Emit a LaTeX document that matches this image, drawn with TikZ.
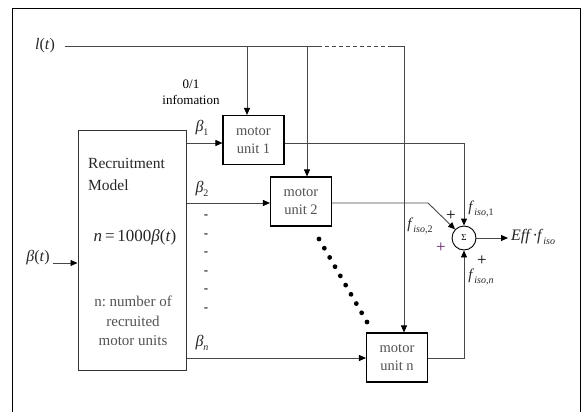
\documentclass[tikz,border=0pt]{standalone}
\usepackage{fontspec}
\setmainfont{Liberation Serif}
\usetikzlibrary{arrows.meta,calc}

% italic variable with a small lowered subscript
\newcommand{\subvar}[2]{\textit{#1}{\fontsize{10}{10}\selectfont\raisebox{-3.5pt}{#2}}}

\begin{document}
\begin{tikzpicture}[x=1pt,y=-1pt,
  wire/.style={draw=black!72, line width=0.9pt},
  feed/.style={wire,-{Triangle[length=7pt,width=6pt,color=black]}},
  unitbox/.style={draw=black, line width=1.1pt, minimum width=61pt,
    minimum height=49pt, inner sep=0pt, align=center,
    font=\fontsize{14.5}{18}\selectfont, text=black!68},
  mathlbl/.style={inner sep=0pt, font=\fontsize{16}{18}\selectfont, text=black!85},
  sublbl/.style={inner sep=0pt, font=\fontsize{15}{16}\selectfont, text=black!85},
  plus/.style={inner sep=0pt, font=\fontsize{17}{17}\selectfont},
  dashmark/.style={inner sep=0pt, font=\fontsize{13}{13}\selectfont}
]
\useasboundingbox (0,0) rectangle (583,412);

% outer frame, open at the bottom
\draw[black, line width=1pt] (12,412) -- (12,9) -- (580,9) -- (580,412);

% blocks
\node[draw=black!80, line width=1pt, minimum width=108pt, minimum height=240pt,
  inner sep=0pt] (rec) at (132,250) {};
\node[anchor=west, inner sep=0pt, align=left, text=black!85,
  font=\fontsize{15.5}{22}\selectfont] (rectitle) at (88,174) {Recruitment\\Model};
\node[mathlbl, font=\fontsize{17}{18}\selectfont] (receq) at (135,237)
  {\textit{n}\,=\,1000\textit{β}(\textit{t})};
\node[inner sep=0pt, align=center, text=black!68,
  font=\fontsize{15}{19.5}\selectfont] (recnote) at (133,321)
  {n:\ number of\\recruited\\motor units};

\node[unitbox] (mu1) at (253.5,140) {motor\\unit 1};
\node[unitbox] (mu2) at (301,201.5) {motor\\unit 2};
\node[unitbox] (mun) at (397,357.5) {motor\\unit n};

\node[draw=black, line width=0.9pt, circle, minimum size=24pt, inner sep=0pt,
  font=\fontsize{9}{9}\selectfont] (sum) at (464,238) {Σ};

% input labels
\node[mathlbl] (lt) at (45,46) {\textit{l}(\textit{t})};
\node[mathlbl] (bt) at (38,258) {\textit{β}(\textit{t})};
\node[inner sep=0pt, align=center, font=\fontsize{13}{16}\selectfont]
  (info) at (191,92) {0/1\\infomation};

% l(t) line with its taps down to the units
\coordinate (lstart) at (65,46);
\coordinate (tap1) at (247,46);
\coordinate (tap2) at (307,46);
\coordinate (dashA) at (318,46);
\coordinate (dashB) at (392,46);
\coordinate (tapn) at (404,46);
\draw[wire] (lstart) -- (dashA);
\draw[wire, dash pattern=on 4pt off 3pt] (dashA) -- (dashB);
\draw[wire] (dashB) -- (tapn);
\draw[feed] (tap1) -- (tap1 |- mu1.north);
\draw[feed] (tap2) -- (tap2 |- mu2.north);
\draw[feed] (tapn) -- (tapn |- mun.north);

% beta(t) into the recruitment model
\coordinate (btend) at (53,263);
\draw[feed] (btend) -- (rec.west |- btend);

% recruitment outputs
\draw[feed] (rec.east |- 0,143) -- (mu1.west |- 0,143);
\draw[feed] (rec.east |- 0,203) -- (mu2.west |- 0,203);
\draw[feed] (rec.east |- 0,358) -- (mun.west |- 0,358);
\node[mathlbl] (b1) at (202,128) {\subvar{β}{1}};
\node[mathlbl] (b2) at (202,189) {\subvar{β}{2}};
\node[mathlbl] (bn) at (202,343) {\subvar{β}{\textit{n}}};
\foreach \yy in {217,236,254,273,291,310}
  \node[dashmark] at (206,\yy) {-};

% ellipsis between unit 2 and unit n
\foreach \i in {0,...,9}
  \fill[black] ($(319,239)!\i/9!(367,322)$) circle (2.4pt);

% unit outputs into the summing junction
\coordinate (c1) at (464,143);
\coordinate (c2) at (428,203);
\coordinate (cn) at (464,358);
\draw[feed] (mu1.east |- c1) -- (c1) -- (sum.north);
\draw[feed] (mu2.east |- c2) -- (c2) -- (sum);
\draw[feed] (mun.east |- cn) -- (cn) -- (sum.south);
\coordinate (out) at (508,238);
\draw[feed] (sum.east) -- (out);

% junction labels
\node[sublbl] (f1) at (481,209) {\subvar{f}{\textit{iso},1}};
\node[sublbl] (f2) at (420,226) {\subvar{f}{\textit{iso},2}};
\node[sublbl] (fn) at (481,277) {\subvar{f}{\textit{iso},\textit{n}}};
\node[plus] (p1) at (451,216) {+};
\node[plus, text={rgb,255:red,100;green,30;blue,100}] (p2) at (441,248) {+};
\node[plus] (p3) at (482,261) {+};
\node[mathlbl, anchor=west] (eff) at (511,237) {\textit{Eff}\kern1pt·\kern-1pt\subvar{f}{\textit{iso}}};
\end{tikzpicture}
\end{document}
